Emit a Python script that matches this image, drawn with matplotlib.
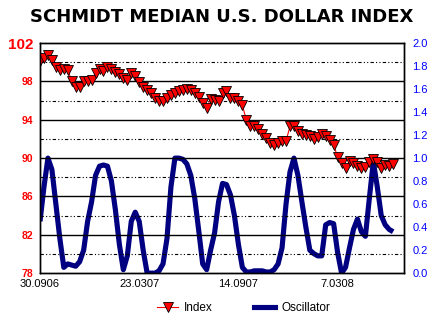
import matplotlib
matplotlib.use("Agg")
import matplotlib.pyplot as plt
from matplotlib.lines import Line2D

# weekly data, week 0 = 30.09.06
weeks = list(range(90))

index_vals = [100.1, 100.4, 100.8, 100.2, 99.5, 99.2, 99.3, 99.2, 98.0, 97.4,
              97.4, 98.0, 98.0, 98.1, 98.9, 99.3, 99.1, 99.5, 99.3, 99.0,
              98.8, 98.4, 98.2, 98.9, 98.6, 97.9, 97.4, 97.1, 96.8, 96.3,
              96.0, 96.0, 96.3, 96.6, 96.8, 97.0, 97.1, 97.2, 97.1, 96.8,
              96.4, 95.8, 95.2, 96.2, 96.1, 96.0, 96.8, 97.0, 96.3, 96.3,
              96.0, 95.5, 94.0, 93.4, 93.4, 93.0, 92.5, 92.1, 91.6, 91.4,
              91.6, 91.8, 91.8, 93.3, 93.4, 92.8, 92.5, 92.4, 92.3, 92.0,
              92.2, 92.5, 92.3, 91.9, 91.4, 90.1, 89.5, 89.0, 89.7, 89.5,
              89.2, 89.0, 89.1, 89.6, 89.9, 89.6, 89.0, 89.3, 89.2, 89.4]

osc_vals = [0.45, 0.75, 1.0, 0.9, 0.6, 0.3, 0.05, 0.08, 0.07, 0.06,
            0.1, 0.2, 0.45, 0.62, 0.85, 0.93, 0.94, 0.93, 0.8, 0.55,
            0.25, 0.03, 0.15, 0.45, 0.53, 0.45, 0.2, 0.0, 0.0, 0.0,
            0.02, 0.08, 0.3, 0.75, 1.0, 1.0, 0.99, 0.95, 0.85, 0.65,
            0.37, 0.08, 0.03, 0.2, 0.35, 0.62, 0.78, 0.77, 0.68, 0.5,
            0.25, 0.05, 0.01, 0.01, 0.02, 0.02, 0.02, 0.01, 0.01, 0.03,
            0.08, 0.22, 0.6, 0.88, 1.0, 0.85, 0.62, 0.4, 0.2, 0.17,
            0.15, 0.15, 0.42, 0.44, 0.43, 0.18, 0.0, 0.05, 0.22, 0.38,
            0.47, 0.36, 0.32, 0.65, 0.97, 0.75, 0.5, 0.42, 0.38, 0.36]

xtick_pos = [0, 25, 50, 75]
xtick_labels = ["30.0906", "23.0307", "14.0907", "7.0308"]

left_ticks = [78, 82, 86, 90, 94, 98, 102]
minor_grid = [80, 84, 88, 92, 96, 100]
right_ticks = [0.0, 0.2, 0.4, 0.6, 0.8, 1.0, 1.2, 1.4, 1.6, 1.8, 2.0]

navy = "#000080"

fig = plt.figure(figsize=(4.47, 3.24), dpi=100)
ax = fig.add_axes([0.0895, 0.157, 0.814, 0.710])
ax2 = ax.twinx()

ax.set_xlim(0, 91.7)
ax.set_ylim(78, 102)
ax2.set_ylim(0, 2.0)

for v in left_ticks[1:-1]:
    ax.axhline(v, color="black", lw=1.0, zorder=0)
for v in minor_grid:
    ax.axhline(v, color="black", lw=0.8, dashes=[3, 2, 1, 2, 1, 2], zorder=0)

# oscillator on the right axis, index drawn above it
ax2.plot(weeks, osc_vals, color=navy, lw=3.7, solid_capstyle="butt", zorder=1)
ax.set_zorder(ax2.get_zorder() + 1)
ax.patch.set_visible(False)
ax.plot(weeks, index_vals, color="red", lw=0.8, marker="v", ms=7.5,
        markerfacecolor="red", markeredgecolor="black", markeredgewidth=0.6)

ax.set_yticks(left_ticks)
ax.set_yticklabels([str(v) for v in left_ticks])
for lbl in ax.get_yticklabels():
    lbl.set_color("red")
    lbl.set_fontweight("bold")
    lbl.set_fontfamily("Liberation Sans")
    lbl.set_fontsize(7.5)
ax.get_yticklabels()[-1].set_fontsize(11)
ax.tick_params(axis="y", length=0, pad=5)

ax2.set_yticks(right_ticks)
ax2.set_yticklabels([f"{v:.1f}" for v in right_ticks], color="blue",
                    fontsize=8, fontfamily="Liberation Sans")
ax2.tick_params(axis="y", length=0, pad=6)

ax.set_xticks(xtick_pos)
ax.set_xticklabels(xtick_labels, fontsize=8, fontfamily="Liberation Sans")
ax.tick_params(axis="x", length=0, pad=4.5)

for a in (ax, ax2):
    for s in a.spines.values():
        s.set_color("black")
        s.set_linewidth(1.0)

fig.text(0.497, 0.947, "SCHMIDT MEDIAN U.S. DOLLAR INDEX", ha="center", va="center",
         fontsize=13, fontweight="bold", fontfamily="DejaVu Sans")

handles = [Line2D([0], [0], color="red", lw=0.8, marker="v", ms=7.5,
                  markerfacecolor="red", markeredgecolor="black", markeredgewidth=0.6),
           Line2D([0], [0], color=navy, lw=3.7)]
fig.legend(handles, ["Index", "Oscillator"], loc="center", bbox_to_anchor=(0.545, 0.048),
           ncol=2, frameon=False, prop={"family": "Liberation Sans", "size": 8.5},
           handlelength=1.8, handletextpad=0.5, columnspacing=3.5)

fig.savefig("out.png", dpi=100)
